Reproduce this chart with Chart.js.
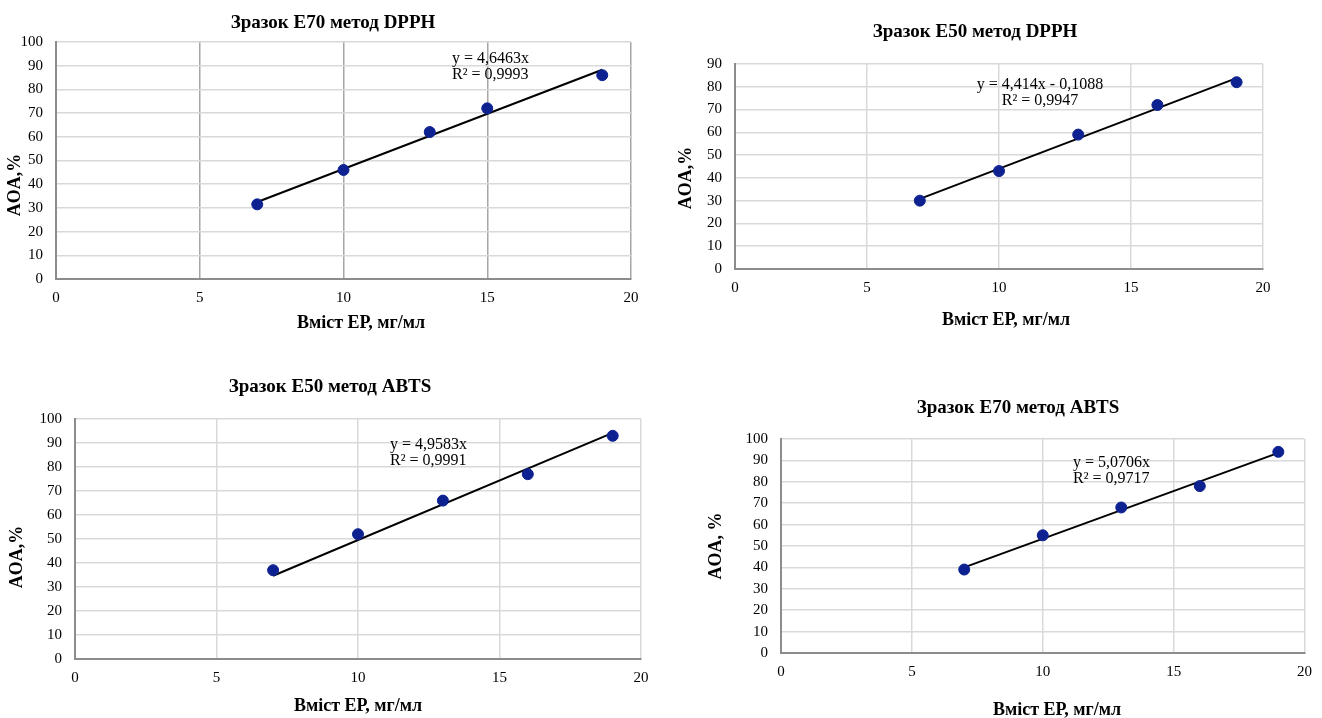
<!DOCTYPE html>
<html>
<head>
<meta charset="utf-8">
<script src="https://cdn.jsdelivr.net/npm/chart.js@4.4.0/dist/chart.umd.min.js"></script>
<style>
  body { margin: 0; background: #fff; width: 1322px; height: 718px; overflow: hidden; position: relative; }
  canvas { position: absolute; }
</style>
</head>
<body>
<canvas id="c1"></canvas>
<canvas id="c2"></canvas>
<canvas id="c3"></canvas>
<canvas id="c4"></canvas>
<script>
// values
const titles = ['Зразок Е70 метод DPPH', 'Зразок Е50 метод DPPH', 'Зразок Е50 метод ABTS', 'Зразок Е70 метод ABTS'];
const xTitle = 'Вміст ЕР, мг/мл';
const yTitles = ['AOA,%', 'AOA,%', 'AOA,%', 'AOA, %'];

const concE70Dpph = [7, 10, 13, 15, 19];
const concOther = [7, 10, 13, 16, 19];
const aoaE70Dpph = [31.5, 46, 62, 72, 86];
const aoaE50Dpph = [30, 43, 59, 72, 82];
const aoaE50Abts = [37, 52, 66, 77, 93];
const aoaE70Abts = [39, 55, 68, 78, 94];

const trendX = [7, 19];
const trendE70Dpph = [32.5, 88.3];
const trendE50Dpph = [30.8, 83.8];
const trendE50Abts = [34.7, 94.2];
const trendE70Abts = [40, 93.5];

const equations = [
  ['y = 4,6463x', 'R² = 0,9993'],
  ['y = 4,414x - 0,1088', 'R² = 0,9947'],
  ['y = 4,9583x', 'R² = 0,9991'],
  ['y = 5,0706x', 'R² = 0,9717'],
];
const yMax = [100, 90, 100, 100];

// layout (page pixels)
const boxes = [
  {x: 0, y: 0, w: 661, h: 340},
  {x: 661, y: 0, w: 661, h: 340},
  {x: 0, y: 340, w: 661, h: 378},
  {x: 661, y: 340, w: 661, h: 378},
];
const plots = [
  {l: 56, t: 42, r: 631, b: 279},
  {l: 735, t: 64, r: 1263, b: 269},
  {l: 75, t: 419, r: 641, b: 659},
  {l: 781, t: 439, r: 1312, b: 653},
];
const textPos = [
  {title: [333, 23], eq: [452, 59], eqAlign: 'left', xt: [361, 323], yt: [15, 185]},
  {title: [975, 32], eq: [1040, 85], eqAlign: 'center', xt: [1006, 320], yt: [686, 178]},
  {title: [330, 387], eq: [390, 445], eqAlign: 'left', xt: [358, 706], yt: [17, 557]},
  {title: [1018, 408], eq: [1073, 463], eqAlign: 'left', xt: [1057, 710], yt: [716, 546]},
];
const vGridColors = ['#a6a6a6', '#d9d9d9', '#d9d9d9', '#d9d9d9'];

const serif = '"Liberation Serif", "Times New Roman", serif';

const textPlugin = {
  id: 'texts',
  afterDraw(chart) {
    const i = chart.options.plugins.texts.index;
    const b = boxes[i], p = textPos[i];
    const ctx = chart.ctx;
    ctx.save();
    ctx.fillStyle = '#000';
    ctx.textBaseline = 'middle';
    ctx.textAlign = 'center';
    ctx.font = 'bold 19px ' + serif;
    ctx.fillText(titles[i], p.title[0] - b.x, p.title[1] - b.y);
    ctx.font = 'bold 18px ' + serif;
    ctx.fillText(xTitle, p.xt[0] - b.x, p.xt[1] - b.y);
    ctx.save();
    ctx.translate(p.yt[0] - b.x, p.yt[1] - b.y);
    ctx.rotate(-Math.PI / 2);
    ctx.fillText(yTitles[i], 0, 0);
    ctx.restore();
    ctx.font = '16px ' + serif;
    ctx.textAlign = p.eqAlign;
    ctx.fillText(equations[i][0], p.eq[0] - b.x, p.eq[1] - b.y);
    ctx.fillText(equations[i][1], p.eq[0] - b.x, p.eq[1] + 16 - b.y);
    ctx.restore();
  }
};

function makeChart(i, xs, ys, trendY) {
  const b = boxes[i], pl = plots[i];
  const cv = document.getElementById('c' + (i + 1));
  cv.width = b.w; cv.height = b.h;
  cv.style.left = b.x + 'px'; cv.style.top = b.y + 'px';
  return new Chart(cv, {
    type: 'scatter',
    data: {
      datasets: [
        {
          data: xs.map((x, k) => ({x, y: ys[k]})),
          backgroundColor: '#0d2191',
          borderColor: '#0d2191',
          pointRadius: 5.5,
          showLine: false,
        },
        {
          data: trendX.map((x, k) => ({x, y: trendY[k]})),
          borderColor: '#000',
          borderWidth: 2,
          pointRadius: 0,
          showLine: true,
          fill: false,
        },
      ]
    },
    options: {
      responsive: false,
      animation: false,
      layout: {
        padding: {left: 0, top: pl.t - b.y, right: b.x + b.w - pl.r, bottom: 0}
      },
      plugins: {
        legend: {display: false},
        tooltip: {enabled: false},
        texts: {index: i},
      },
      scales: {
        x: {
          type: 'linear', min: 0, max: 20,
          ticks: {stepSize: 5, padding: 10, color: '#000', font: {family: serif, size: 15}},
          grid: {color: vGridColors[i], lineWidth: 1.5, drawTicks: false},
          border: {color: '#8c8c8c', width: 2},
          afterFit: s => { s.height = b.y + b.h - pl.b; },
        },
        y: {
          type: 'linear', min: 0, max: yMax[i],
          ticks: {stepSize: 10, padding: 13, color: '#000', font: {family: serif, size: 15}},
          grid: {color: '#d9d9d9', lineWidth: 1.5, drawTicks: false},
          border: {color: '#8c8c8c', width: 2},
          afterFit: s => { s.width = pl.l - b.x; },
        },
      },
    },
    plugins: [textPlugin],
  });
}

makeChart(0, concE70Dpph, aoaE70Dpph, trendE70Dpph);
makeChart(1, concOther, aoaE50Dpph, trendE50Dpph);
makeChart(2, concOther, aoaE50Abts, trendE50Abts);
makeChart(3, concOther, aoaE70Abts, trendE70Abts);
</script>
</body>
</html>
